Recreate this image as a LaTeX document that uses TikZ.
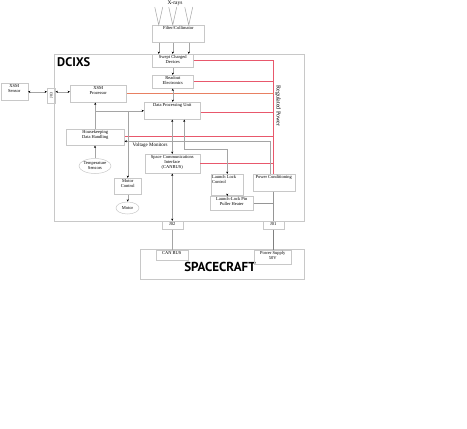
\documentclass[tikz,border=0pt]{standalone}
\usepackage{fontspec}
\setmainfont{Liberation Serif}
\newfontfamily\headfont{PT Sans}
\usetikzlibrary{arrows.meta,shapes.geometric}
\definecolor{boxgray}{RGB}{200,200,200}
\definecolor{linegray}{RGB}{165,165,165}
\definecolor{powergray}{RGB}{150,150,150}
\definecolor{pwrred}{RGB}{232,88,108}
\definecolor{pwrorange}{RGB}{232,128,98}
\tikzset{
  unit/.style={draw=boxgray, line width=0.5pt, rectangle, anchor=north west, inner sep=0pt},
  unitlabel/.style={font=\fontsize{4.5}{5}\selectfont, align=center, inner sep=1pt},
  toptext/.style={label={[unitlabel,anchor=north]north:{#1}}},
  toplefttext/.style={label={[unitlabel,align=left,anchor=north west]north west:{#1}}},
  sensor/.style={ellipse, draw=boxgray, line width=0.5pt, inner sep=0pt, font=\fontsize{4.5}{5}\selectfont, align=center},
  conn/.style={draw=linegray, line width=0.5pt},
  pwr/.style={draw=pwrred, line width=1pt},
  supply/.style={draw=powergray, line width=1.4pt},
  head/.style={font=\headfont\bfseries\fontsize{12.5}{13}\selectfont}
}
\begin{document}
\begin{tikzpicture}[x=1pt, y=-1pt, >={Stealth[length=2.4pt,width=2pt,black]}]
  \useasboundingbox (0,0) rectangle (467,429);
  % instrument and spacecraft frames
  \node[unit, minimum width=250pt, minimum height=167pt] (dcixs) at (54,54) {};
  \node[head, anchor=north west, inner sep=0pt] (dcixslabel) at (57,57) {DCIXS};
  \node[unit, minimum width=164pt, minimum height=30pt] (sc) at (140,249) {};
  \node[head, font=\headfont\bfseries\fontsize{13}{13}\selectfont, inner sep=0pt] (sclabel) at (220,267) {SPACECRAFT};

  % units
  \node[unit, minimum width=52pt, minimum height=17pt, toptext={Filter/Collimator}] (filt) at (152,25) {};
  \node[unit, minimum width=41pt, minimum height=13pt, toptext={Swept Charged\\Devices}] (scd) at (152,54) {};
  \node[unit, minimum width=41pt, minimum height=13pt, toptext={Readout\\Electronics}] (ro) at (152,75) {};
  \node[unit, minimum width=56pt, minimum height=17pt, toptext={Data Processing Unit}] (dpu) at (144,102) {};
  \node[unit, minimum width=27pt, minimum height=17pt, toptext={XSM\\Sensor}] (xsms) at (0.5,83) {};
  \node[unit, minimum width=8pt, minimum height=15pt] (jthree) at (47,88) {};
  \node[rotate=90, font=\fontsize{4}{4}\selectfont, inner sep=0pt] (jthreelabel) at (jthree.center) {J03};
  \node[unit, minimum width=56pt, minimum height=17pt, toptext={XSM\\Processor}] (xsmp) at (70,85) {};
  \node[unit, minimum width=58pt, minimum height=16pt, toptext={Housekeeping\\Data Handling}] (hk) at (66,129) {};
  \node[sensor, minimum width=32pt, minimum height=15pt] (temp) at (95,166) {Temperature\\Sensors};
  \node[unit, minimum width=27pt, minimum height=16pt, toptext={Motor\\Control}] (mc) at (114,178) {};
  \node[sensor, minimum width=23pt, minimum height=12pt] (motor) at (127.5,208) {Motor};
  \node[unit, minimum width=55pt, minimum height=19pt, toptext={Space Communications\\Interface\\(CANBUS)}] (sci) at (144.5,154) {};
  \node[unit, minimum width=32pt, minimum height=21pt, toplefttext={Launch Lock\\Control}] (llc) at (211,174) {};
  \node[unit, minimum width=43pt, minimum height=14pt, toptext={Launch-Lock Pin\\Puller Heater}] (llp) at (210,196) {};
  \node[unit, minimum width=42pt, minimum height=17pt, toptext={Power Conditioning}] (pc) at (252.5,174) {};
  \node[unit, minimum width=21pt, minimum height=8pt, toptext={J02}] (jtwo) at (161.5,221) {};
  \node[unit, minimum width=21pt, minimum height=8pt, toptext={J01}] (jone) at (262.5,221) {};
  \node[unit, minimum width=32pt, minimum height=10pt, toptext={CAN BUS}] (can) at (155.5,250) {};
  \node[unit, minimum width=37pt, minimum height=14pt, toptext={Power Supply\\50V}] (ps) at (254,250) {};

  % texts
  \node[font=\fontsize{5.5}{6}\selectfont, inner sep=0pt] (xrays) at (175,3) {X-rays};
  \node[font=\fontsize{6}{6}\selectfont, rotate=-90, inner sep=0pt] (regpwr) at (278,106) {Regulated Power};
  \node[font=\fontsize{5}{5}\selectfont, anchor=north west, inner sep=0pt] (vmonlabel) at (132.5,142.5) {Voltage Monitors};

  % regulated power
  \draw[pwr] (scd.east) -- (scd.east -| pc.north) -- (pc.north)
    (ro.east) -- (ro.east -| pc.north)
    ([yshift=-1.5pt]dpu.east) -- ([yshift=-1.5pt]dpu.east -| pc.north)
    ([yshift=0.5pt]hk.east) -- ([yshift=0.5pt]hk.east -| pc.north)
    (sci.east) -- (sci.east -| pc.north);
  \draw[pwr, draw=pwrorange] (xsmp.east) -- (xsmp.east -| pc.north);

  % x-rays into the collimator
  \coordinate (rayA) at ([xshift=-14pt]scd.north);
  \coordinate (rayB) at (scd.north);
  \coordinate (rayC) at ([xshift=16pt]scd.north);
  \foreach \ray in {rayA,rayB,rayC} {
    \draw[conn] ([xshift=-4pt,yshift=18pt]\ray |- filt.north) -- (\ray |- filt.north) -- ([xshift=4pt,yshift=18pt]\ray |- filt.north);
    \draw[conn,->] (\ray |- filt.south) -- (\ray);
  }

  % data and control
  \begin{scope}[conn]
    \draw[->] (scd.south) -- (scd.south |- ro.north);
    \draw[<->] (ro.south) -- (ro.south |- dpu.north);
    \draw[<->] (xsms.east) -- (xsms.east -| jthree.west);
    \draw[<->] (jthree.east |- xsms.east) -- (xsms.east -| xsmp.west);
    \draw[->] (hk.north) -- (hk.north |- xsmp.south);
    \coordinate (hkbus) at (hk.north |- dpu.west);
    \draw[->] (hkbus) -- (dpu.west);
    \draw[->] (mc.north |- dpu.west) -- (mc.north);
    \draw[->] (temp.north) -- (temp.north |- hk.south);
    \draw[->] (mc.south) -- (mc.south |- motor.north);
    \draw[<->] (dpu.south) -- (dpu.south |- sci.north);
    \coordinate (dpull) at ([xshift=12pt]dpu.south);
    \draw[<->] (dpull) -- ++(0,30) -| (llc.north);
    \draw[->] (llc.south) -- (llc.south |- llp.north);
    \coordinate (vmon) at ([xshift=-4pt]pc.north);
    \draw[->] (vmon) |- ([yshift=-4pt]hk.east);
    \draw[<->] (sci.south) -- (sci.south |- jtwo.north);
    \draw (jtwo.south) -- (jtwo.south |- can.north);
  \end{scope}

  % power supply
  \draw[supply] (pc.south) -- (pc.south |- jone.north);
  \draw[supply] (llp.east) -- (llp.east -| pc.south);
  \draw[supply, draw=gray] (jone.south) -- (jone.south |- ps.north);
\end{tikzpicture}
\end{document}
